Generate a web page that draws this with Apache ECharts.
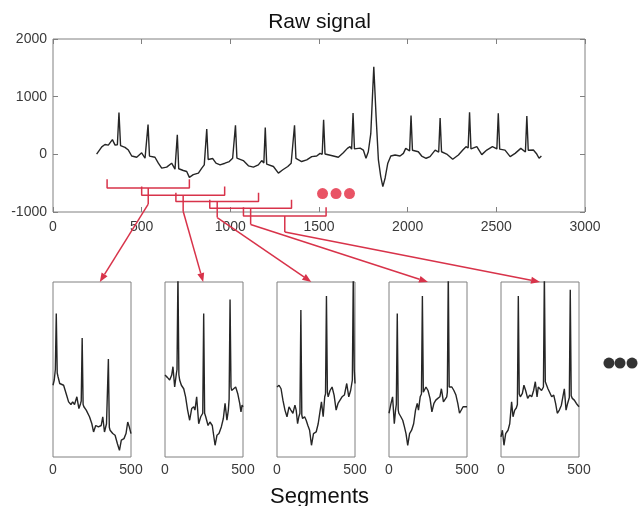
<!DOCTYPE html>
<html lang="en">
<head>
    <meta charset="UTF-8">
    <title>Raw signal / Segments</title>
    <style type="text/css">
        html, body { margin: 0; padding: 0; background: #fff; }
        #main { width: 639px; height: 506px; }
    </style>
</head>
<body>
<div id="main"></div>
<script src="https://cdn.jsdelivr.net/npm/echarts@6/dist/echarts.min.js"></script>
<script>
    // raw signal: [sample, amplitude]
    var rawSignal = [
        [246,5],[275,130],[293,170],[312,160],[335,255],[350,160],[363,165],[372,727],[381,150],[387,142],
        [406,120],[425,74],[444,-29],[472,-51],[500,27],[519,-68],[528,-60],[536,515],[544,-30],[551,-29],
        [575,-51],[594,-154],[613,-239],[641,-222],[669,-154],[688,-256],[693,-250],[701,340],[709,-250],[716,-256],
        [735,-280],[754,-297],[769,-399],[791,-353],[820,-325],[839,-239],[853,-183],[859,-170],[867,438],[875,-90],
        [880,-85],[901,-73],[919,-154],[942,-183],[970,-154],[994,-125],[1013,-68],[1021,-75],[1029,505],[1037,-65],
        [1045,-68],[1073,-108],[1102,-199],[1130,-222],[1158,-183],[1177,-108],[1189,-150],[1197,465],[1205,-170],[1215,-183],
        [1243,-211],[1271,-325],[1296,-268],[1324,-211],[1343,-154],[1354,-150],[1362,505],[1370,-70],[1378,-68],[1402,-125],
        [1431,-97],[1459,-40],[1487,-29],[1506,17],[1518,0],[1526,600],[1534,5],[1544,5],[1581,-29],[1609,-51],
        [1637,27],[1660,103],[1675,133],[1684,90],[1692,718],[1700,95],[1706,90],[1732,108],[1750,74],[1765,-68],
        [1778,45],[1792,358],[1809,1520],[1822,654],[1835,-97],[1848,-382],[1860,-560],[1873,-410],[1888,-154],[1905,-29],
        [1929,-12],[1957,-29],[1976,17],[1989,103],[2011,60],[2019,672],[2027,70],[2032,74],[2060,45],[2079,-29],
        [2104,-68],[2126,-40],[2155,74],[2175,40],[2183,628],[2191,45],[2196,45],[2220,5],[2254,-85],[2286,-12],
        [2311,74],[2329,133],[2341,110],[2349,728],[2357,95],[2365,90],[2390,133],[2418,-5],[2446,74],[2478,133],
        [2503,95],[2511,712],[2519,90],[2525,90],[2549,74],[2578,-40],[2606,17],[2638,103],[2664,40],[2672,666],
        [2680,70],[2686,74],[2709,74],[2728,5],[2741,-68],[2754,-29]
    ];

    // segments, [sample, normalised amplitude 0..1]
    var seg1 = [[0,0.41],[8,0.44],[15,0.5],[21,0.82],[27,0.48],[32,0.46],[43,0.42],[68,0.41],[85,0.36],[100,0.315],
        [115,0.30],[126,0.315],[138,0.30],[153,0.344],[166,0.277],[177,0.306],[181,0.32],[187,0.68],[193,0.30],[198,0.287],
        [213,0.268],[234,0.23],[249,0.19],[260,0.143],[274,0.18],[291,0.172],[309,0.18],[319,0.23],[330,0.143],[343,0.19],
        [349,0.2],[355,0.56],[361,0.17],[366,0.153],[383,0.134],[398,0.124],[413,0.076],[426,0.038],[438,0.096],[455,0.105],
        [468,0.134],[479,0.2],[489,0.172],[500,0.134]];
    var seg2 = [[0,0.468],[15,0.455],[30,0.44],[43,0.468],[51,0.516],[62,0.40],[73,0.478],[77,0.5],[83,1.05],[89,0.47],
        [94,0.44],[105,0.41],[120,0.39],[132,0.344],[145,0.268],[158,0.21],[171,0.277],[184,0.287],[192,0.268],[203,0.344],
        [216,0.19],[229,0.23],[242,0.25],[248,0.82],[254,0.25],[261,0.23],[276,0.18],[288,0.2],[303,0.18],[321,0.067],
        [333,0.124],[346,0.134],[361,0.172],[374,0.22],[385,0.306],[397,0.21],[406,0.268],[411,0.33],[417,0.90],[423,0.40],
        [427,0.38],[440,0.39],[453,0.40],[466,0.363],[479,0.306],[487,0.258],[494,0.296],[500,0.287]];
    var seg3 = [[0,0.40],[13,0.41],[26,0.39],[38,0.325],[51,0.268],[64,0.23],[77,0.287],[89,0.268],[102,0.25],[115,0.296],
        [123,0.268],[132,0.19],[140,0.23],[147,0.25],[153,0.84],[159,0.24],[164,0.22],[177,0.23],[187,0.21],[198,0.18],
        [209,0.153],[221,0.067],[234,0.134],[251,0.143],[264,0.19],[277,0.268],[285,0.315],[296,0.23],[306,0.344],[311,0.36],
        [317,0.92],[323,0.37],[328,0.344],[340,0.38],[353,0.40],[366,0.354],[379,0.268],[391,0.306],[404,0.325],[417,0.344],
        [432,0.354],[447,0.42],[460,0.344],[472,0.38],[483,0.44],[489,1.05],[495,0.5],[500,0.42]];
    var seg4 = [[0,0.25],[13,0.306],[23,0.344],[34,0.19],[42,0.268],[47,0.3],[53,0.82],[59,0.27],[63,0.25],[76,0.23],
        [88,0.21],[99,0.172],[109,0.134],[120,0.067],[132,0.134],[145,0.153],[158,0.19],[170,0.268],[181,0.306],[189,0.268],
        [200,0.344],[208,0.36],[214,0.92],[220,0.37],[225,0.363],[237,0.40],[250,0.38],[263,0.335],[275,0.258],[288,0.306],
        [300,0.325],[313,0.335],[326,0.344],[336,0.39],[349,0.315],[359,0.325],[370,0.344],[374,0.37],[380,1.05],[386,0.40],
        [391,0.39],[403,0.40],[416,0.38],[429,0.354],[441,0.306],[452,0.25],[464,0.258],[475,0.287],[487,0.296],[500,0.287]];
    var seg5 = [[0,0.115],[9,0.153],[19,0.067],[30,0.134],[45,0.153],[56,0.19],[68,0.315],[77,0.23],[88,0.268],[98,0.28],
        [105,0.3],[111,0.92],[117,0.36],[124,0.344],[137,0.363],[147,0.41],[158,0.38],[171,0.335],[184,0.354],[197,0.344],
        [209,0.38],[220,0.43],[231,0.344],[239,0.40],[248,0.40],[260,0.38],[272,0.40],[278,1.05],[284,0.43],[288,0.42],
        [301,0.39],[312,0.40],[325,0.344],[338,0.354],[350,0.306],[361,0.25],[374,0.268],[387,0.296],[397,0.296],[406,0.39],
        [417,0.268],[427,0.306],[438,0.34],[444,0.956],[450,0.35],[457,0.335],[470,0.325],[483,0.306],[500,0.287]];
    var segments = [seg1, seg2, seg3, seg4, seg5];

    // windows marked on the raw signal
    var segStart = [305, 500, 693, 884, 1074];
    var segEnd = [769, 968, 1159, 1345, 1540];
    var bracketLevel = [-582, -708, -817, -936, -1068];
    var arrowTarget = [300, 245, 220, 250, 250];   // where each arrow lands on its segment
    var moreWindowsX = [1520, 1596, 1672];
    var moreWindowsY = -680;
    var moreSegmentsX = [692, 763, 840];
    var moreSegmentsY = 0.537;

    var RED = '#d8334a';
    var FONT = '"Liberation Sans", Arial, sans-serif';
    var TXT = '#3a3a3a';
    var BOX = '#808080';
    var tickH = 150, stemLen = 280;

    var panelLeft = [53, 165, 277, 389, 501];

    function plain(v) { return String(v); }

    var chart = echarts.init(document.getElementById('main'));

    var tickStyle = {inside: true, length: 5, lineStyle: {color: BOX}};
    var grids = [{left: 53, top: 39, width: 532, height: 173, show: true, borderColor: BOX, borderWidth: 1}];
    var xAxes = [
        {gridIndex: 0, type: 'value', min: 0, max: 3000, interval: 500, position: 'bottom',
            axisLine: {show: false, onZero: false}, splitLine: {show: false}, axisTick: tickStyle,
            axisLabel: {color: TXT, fontSize: 14, fontFamily: FONT, margin: 8, formatter: plain}},
        {gridIndex: 0, type: 'value', min: 0, max: 3000, interval: 500, position: 'top',
            axisLine: {show: false, onZero: false}, splitLine: {show: false}, axisLabel: {show: false},
            axisTick: tickStyle}
    ];
    var yAxes = [
        {gridIndex: 0, type: 'value', min: -1000, max: 2000, interval: 1000, position: 'left',
            axisLine: {show: false, onZero: false}, splitLine: {show: false},
            axisTick: {show: true, inside: true, length: 5, lineStyle: {color: BOX}},
            axisLabel: {color: TXT, fontSize: 14, fontFamily: FONT, margin: 6, formatter: plain}},
        {gridIndex: 0, type: 'value', min: -1000, max: 2000, interval: 1000, position: 'right',
            axisLine: {show: false, onZero: false}, splitLine: {show: false}, axisLabel: {show: false},
            axisTick: {show: true, inside: true, length: 5, lineStyle: {color: BOX}}}
    ];
    var series = [{
        type: 'line', xAxisIndex: 0, yAxisIndex: 0, data: rawSignal, symbol: 'none',
        lineStyle: {color: '#262626', width: 1.4}, z: 3
    }];

    for (var i = 0; i < 5; i++) {
        grids.push({left: panelLeft[i], top: 282, width: 78, height: 175, show: true, borderColor: BOX, borderWidth: 1});
        xAxes.push({gridIndex: i + 1, type: 'value', min: 0, max: 500, interval: 500,
            axisLine: {show: false, onZero: false}, axisTick: {show: false}, splitLine: {show: false},
            axisLabel: {color: TXT, fontSize: 14, fontFamily: FONT, margin: 6}});
        yAxes.push({gridIndex: i + 1, type: 'value', min: 0, max: 1,
            axisLine: {show: false, onZero: false}, axisTick: {show: false}, splitLine: {show: false},
            axisLabel: {show: false}});
        series.push({type: 'line', xAxisIndex: i + 2, yAxisIndex: i + 2, data: segments[i], symbol: 'none',
            lineStyle: {color: '#262626', width: 1.4}});

        // bracket over the window + stem below its centre
        var c = (segStart[i] + segEnd[i]) / 2, y = bracketLevel[i];
        series.push({type: 'line', xAxisIndex: 0, yAxisIndex: 0, clip: false, symbol: 'none', z: 4,
            lineStyle: {color: RED, width: 1.5},
            data: [[segStart[i], y + tickH], [segStart[i], y], [segEnd[i], y], [segEnd[i], y + tickH]]});
        series.push({type: 'line', xAxisIndex: 0, yAxisIndex: 0, clip: false, symbol: 'none', z: 4,
            lineStyle: {color: RED, width: 1.5},
            data: [[c, y], [c, y - stemLen]]});
    }

    series.push({type: 'scatter', xAxisIndex: 0, yAxisIndex: 0, symbolSize: 11, z: 5,
        itemStyle: {color: '#e3283e'},
        data: moreWindowsX.map(function (x) { return [x, moreWindowsY]; })});
    series.push({type: 'scatter', xAxisIndex: 6, yAxisIndex: 6, clip: false, symbolSize: 11,
        itemStyle: {color: '#000'},
        data: moreSegmentsX.map(function (x) { return [x, moreSegmentsY]; })});

    var option = {
        animation: false,
        backgroundColor: '#fff',
        title: [
            {text: 'Raw signal', left: 'center', top: 7,
                textStyle: {fontFamily: FONT, fontSize: 21, fontWeight: 'normal', color: '#111'}},
            {text: 'Segments', left: 'center', top: 481,
                textStyle: {fontFamily: FONT, fontSize: 22, fontWeight: 'normal', color: '#111'}}
        ],
        grid: grids,
        xAxis: xAxes,
        yAxis: yAxes,
        series: series
    };
    chart.setOption(option);

    // arrows from each stem down to its segment panel
    var arrows = [];
    for (var k = 0; k < 5; k++) {
        var cx = (segStart[k] + segEnd[k]) / 2;
        var p0 = chart.convertToPixel({xAxisIndex: 0, yAxisIndex: 0}, [cx, bracketLevel[k] - stemLen]);
        var p1 = chart.convertToPixel({xAxisIndex: k + 2, yAxisIndex: k + 2}, [arrowTarget[k], 1]);
        var dx = p1[0] - p0[0], dy = p1[1] - p0[1];
        var len = Math.sqrt(dx * dx + dy * dy);
        var ux = dx / len, uy = dy / len;
        var bx = p1[0] - ux * 9, by = p1[1] - uy * 9;
        arrows.push({type: 'line', shape: {x1: p0[0], y1: p0[1], x2: bx, y2: by},
            style: {stroke: RED, lineWidth: 1.5}, z: 10});
        arrows.push({type: 'polygon', shape: {points: [
                [p1[0], p1[1]],
                [bx - uy * 3.5, by + ux * 3.5],
                [bx + uy * 3.5, by - ux * 3.5]
            ]}, style: {fill: RED}, z: 10});
    }
    chart.setOption({graphic: arrows});
</script>
</body>
</html>
